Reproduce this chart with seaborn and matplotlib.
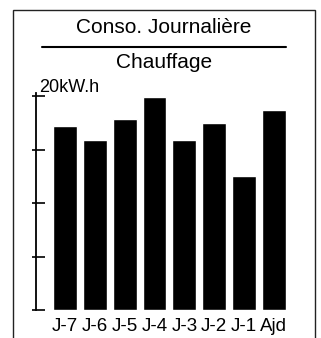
import matplotlib
matplotlib.use("Agg")
import matplotlib.pyplot as plt
from matplotlib.patches import Rectangle
from matplotlib.lines import Line2D
import seaborn as sns
import pandas as pd

categories = ["J-7", "J-6", "J-5", "J-4", "J-3", "J-2", "J-1", "Ajd"]
values = [17.2, 15.9, 17.85, 19.9, 15.9, 17.5, 12.5, 18.7]
yticks = [0, 5, 10, 15, 20]
title = "Conso. Journalière"
subtitle = "Chauffage"
unit_label = "20kW.h"

sns.set_theme(style="white")
plt.rcParams["font.family"] = ["Liberation Sans", "DejaVu Sans"]

W, H = 321, 338
fig = plt.figure(figsize=(W / 100, H / 100), dpi=100)
fig.patch.set_facecolor("white")

ax_left, ax_right, ax_top, ax_bottom = 36, 296, 93, 310
ax = fig.add_axes([ax_left / W, (H - ax_bottom) / H, (ax_right - ax_left) / W, (ax_bottom - ax_top) / H])

df = pd.DataFrame({"jour": categories, "conso": values})
sns.barplot(data=df, x="jour", y="conso", color="black", saturation=1, width=0.8, ax=ax)

ax.set_xlim(-0.97, 7.74)
ax.set_ylim(0, 20.3)
ax.set_xlabel("")
ax.set_ylabel("")
ax.set_facecolor("white")
for s in ["top", "right", "bottom"]:
    ax.spines[s].set_visible(False)
ax.spines["left"].set_color("black")
ax.spines["left"].set_linewidth(1.3)

ax.set_yticks(yticks)
ax.set_yticks(yticks, minor=True)
ax.yaxis.remove_overlapping_locs = False
ax.set_yticklabels([])
ax.tick_params(axis="y", which="major", direction="in", length=6.5, width=1.2, color="black", left=True)
ax.tick_params(axis="y", which="minor", direction="out", length=3, width=1.2, color="black", left=True)
ax.tick_params(axis="x", length=0, pad=6, labelsize=13.5, labelcolor="black")

ax.text(0.012, 20, unit_label, transform=ax.get_yaxis_transform(), ha="left", va="bottom",
        fontsize=13, color="black")

# frame
fig.patches.append(Rectangle((13 / W, -0.1), (315 - 13) / W, (H - 10) / H + 0.1,
                             transform=fig.transFigure, fill=False, edgecolor="#222222", linewidth=1.0))
# rule
fig.lines.append(Line2D([42 / W, 286 / W], [(H - 47) / H] * 2, transform=fig.transFigure,
                        color="black", linewidth=1.5))

fig.text(164 / W, (H - 33) / H, title, ha="center", va="baseline", fontsize=15, color="black")
fig.text(164 / W, (H - 68) / H, subtitle, ha="center", va="baseline", fontsize=15, color="black")

fig.savefig("out.png", dpi=100)
